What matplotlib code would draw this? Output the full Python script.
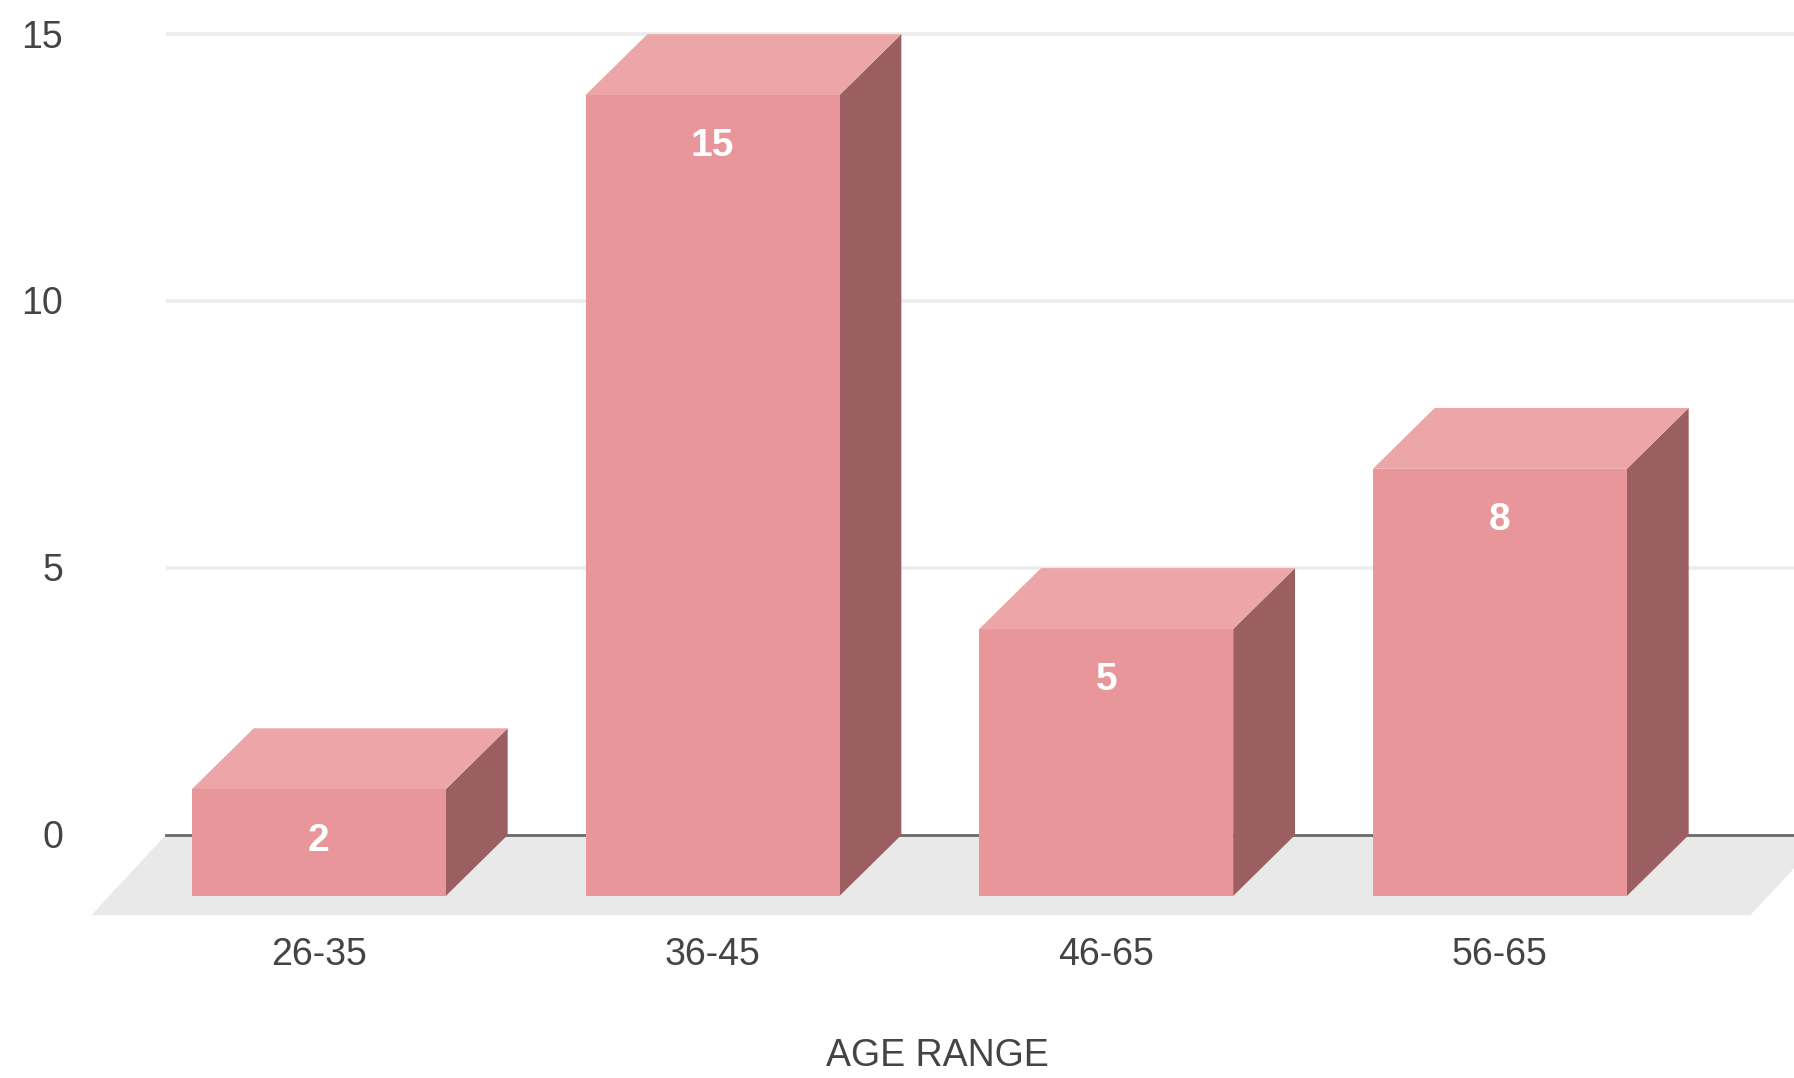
import matplotlib
matplotlib.use("Agg")
import matplotlib.pyplot as plt
from matplotlib.patches import Polygon

# Data
categories = ["26-35", "36-45", "46-65", "56-65"]
counts = [2, 15, 5, 8]
y_ticks = [0, 5, 10, 15]
x_title = "AGE RANGE"

plt.rcParams["font.family"] = ["Liberation Sans", "DejaVu Sans"]

fig = plt.figure(figsize=(17.94, 10.78), dpi=100)
ax = fig.add_axes([0, 0, 1, 1])
ax.set_xlim(-0.81, 3.747)
ax.set_ylim(-4.55, 15.64)
ax.axis("off")

# 3D geometry (category units / value units)
bar_w = 0.645
dx, dy = 0.157, 1.14
wall_left = -0.389
half_cap = 0.25  # half the digit height, in value units

front_c = "#e8969a"
top_c = "#eca6a8"
side_c = "#9c5f61"
text_c = "#444444"

# back-wall gridlines
for t in y_ticks:
    if t == 0:
        continue
    ax.plot([wall_left, 3.9], [t, t], color="#ececec", lw=2.6,
            solid_capstyle="butt", zorder=1)
ax.plot([wall_left, 3.9], [0, 0], color="#6a6a6a", lw=2.0, zorder=2)

# floor
floor_dy, floor_dx = 1.5, 0.19
floor = Polygon([(-0.578, -floor_dy), (3.636, -floor_dy),
                 (3.636 + floor_dx, 0), (wall_left, 0)],
                closed=True, facecolor="#e9e9e9", edgecolor="none", zorder=1.5)
ax.add_patch(floor)

for i, v in enumerate(counts):
    x0, x1 = i - bar_w / 2, i + bar_w / 2
    side = Polygon([(x1, -dy), (x1 + dx, 0), (x1 + dx, v), (x1, v - dy)],
                   closed=True, facecolor=side_c, edgecolor="none", zorder=3)
    top = Polygon([(x0, v - dy), (x0 + dx, v), (x1 + dx, v), (x1, v - dy)],
                  closed=True, facecolor=top_c, edgecolor="none", zorder=3)
    front = Polygon([(x0, -dy), (x1, -dy), (x1, v - dy), (x0, v - dy)],
                    closed=True, facecolor=front_c, edgecolor="none", zorder=4)
    for p in (side, top, front):
        ax.add_patch(p)
    ax.text(i, v - dy - 0.88 - 0.27, str(v), color="white", fontsize=28,
            fontweight="bold", ha="center", va="baseline", zorder=5)
    ax.text(i, -2.43, categories[i], color=text_c, fontsize=27,
            ha="center", va="baseline", zorder=5)

# y tick labels
for t in y_ticks:
    ax.text(-0.65, t - half_cap, str(t), color=text_c, fontsize=27,
            ha="right", va="baseline")

ax.text(1.57, -4.33, x_title, color=text_c, fontsize=27,
        ha="center", va="baseline")

fig.savefig("out.png", dpi=100)
